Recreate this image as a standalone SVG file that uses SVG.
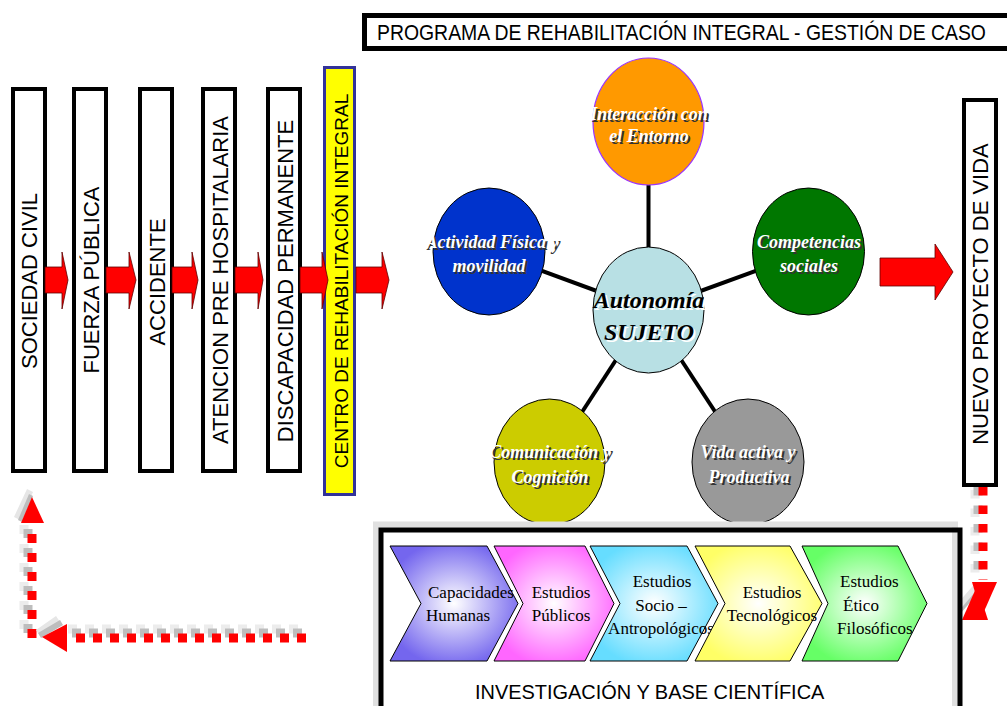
<svg xmlns="http://www.w3.org/2000/svg" width="1007" height="706" viewBox="0 0 1007 706">
<style>
.box{fill:#fff;stroke:#000;stroke-width:4}
.vt{font-family:"Liberation Sans",Arial,sans-serif;font-size:22px;fill:#000;text-anchor:middle}
.ra{fill:#ff0000;stroke:#600000;stroke-width:0.8}
.ct{font-family:"Liberation Serif","Times New Roman",serif;font-weight:bold;font-style:italic;font-size:18px;text-anchor:middle}
.sh{fill:#333}
.wt{fill:#fff}
.ch{stroke:#000;stroke-width:1}
.cht{font-family:"Liberation Serif","Times New Roman",serif;font-size:17px;fill:#000}
.dot{fill:none;stroke:#ff0000;stroke-width:9}
.dsh1{fill:none;stroke:#ececec;stroke-width:9}
.dsh2{fill:none;stroke:#bdbdbd;stroke-width:9}
.link{stroke:#000;stroke-width:4}
</style>
<defs>
<radialGradient id="gP" cx="50%" cy="50%" r="55%"><stop offset="0" stop-color="#fff"/><stop offset="1" stop-color="#7466ee"/></radialGradient>
<radialGradient id="gM" cx="50%" cy="50%" r="55%"><stop offset="0" stop-color="#fff"/><stop offset="1" stop-color="#ff66ff"/></radialGradient>
<radialGradient id="gC" cx="50%" cy="50%" r="55%"><stop offset="0" stop-color="#fff"/><stop offset="1" stop-color="#66ddff"/></radialGradient>
<radialGradient id="gY" cx="50%" cy="50%" r="55%"><stop offset="0" stop-color="#fff"/><stop offset="1" stop-color="#ffff66"/></radialGradient>
<radialGradient id="gG" cx="50%" cy="50%" r="55%"><stop offset="0" stop-color="#fff"/><stop offset="1" stop-color="#66ff66"/></radialGradient>
</defs>
<rect width="1007" height="706" fill="#fff"/>

<g id="title">
<path d="M1007 15.5 H364.5 V48.5 H1007" fill="#fff" stroke="#000" stroke-width="5"/>
<text transform="translate(377,40) scale(0.882,1)" x="0" y="0" font-family="Liberation Sans,Arial,sans-serif" font-size="22">PROGRAMA DE REHABILITACIÓN INTEGRAL - GESTIÓN DE CASO</text>
</g>

<g id="sociedad-civil"><rect class="box" x="13" y="89" width="32" height="382"/><text class="vt" transform="translate(37,281) rotate(-90)">SOCIEDAD CIVIL</text></g>
<g id="fuerza-publica"><rect class="box" x="74" y="89" width="32" height="382"/><text class="vt" transform="translate(98.5,280) rotate(-90)">FUERZA PÚBLICA</text></g>
<g id="accidente"><rect class="box" x="140" y="89" width="32" height="382"/><text class="vt" transform="translate(164.5,282) rotate(-90)">ACCIDENTE</text></g>
<g id="atencion"><rect class="box" x="203" y="89" width="32" height="382"/><text class="vt" transform="translate(227.5,280) rotate(-90)">ATENCION PRE HOSPITALARIA</text></g>
<g id="discapacidad"><rect class="box" x="268" y="89" width="32" height="382"/><text class="vt" transform="translate(292.5,281) rotate(-90)">DISCAPACIDAD PERMANENTE</text></g>
<g id="centro"><rect x="324.5" y="67.5" width="30" height="427" fill="#ffff00" stroke="#333399" stroke-width="3"/><text class="vt" style="font-size:19px" transform="translate(347.5,281) rotate(-90)">CENTRO DE REHABILITACIÓN INTEGRAL</text></g>
<g id="nuevo-proyecto"><rect class="box" x="964" y="100" width="32" height="385"/><text class="vt" transform="translate(987.5,294) rotate(-90)">NUEVO PROYECTO DE VIDA</text></g>

<g id="connectors">
<line class="link" x1="648.5" y1="310" x2="648.5" y2="121.5"/>
<line class="link" x1="648.5" y1="310" x2="489" y2="251.5"/>
<line class="link" x1="648.5" y1="310" x2="808.5" y2="251.5"/>
<line class="link" x1="648.5" y1="310" x2="549.5" y2="462"/>
<line class="link" x1="648.5" y1="310" x2="748" y2="462"/>
<polygon class="ra" points="45,267 62,267 62,252 68,280 62,309 62,293 45,293"/>
<polygon class="ra" points="106,267 129,267 129,252 136,280 129,309 129,293 106,293"/>
<polygon class="ra" points="172,267 192,267 192,252 198,280 192,309 192,293 172,293"/>
<polygon class="ra" points="235,267 258,267 258,252 263,280 258,309 258,293 235,293"/>
<polygon class="ra" points="300,267 322,267 322,252 328,280 322,309 322,293 300,293"/>
<polygon class="ra" points="356,267 382,267 382,252 389,280 382,309 382,293 356,293"/>
<polygon class="ra" points="880,258 935,258 935,244 953,272 935,300 935,286 880,286"/>
<path class="dsh1" d="M298 629 H68" stroke-dasharray="9 8"/>
<path class="dsh2" d="M302 633 H72" stroke-dasharray="9 8"/>
<path class="dsh1" d="M24 629 V515" stroke-dasharray="9 10"/>
<path class="dsh2" d="M28 633 V519" stroke-dasharray="9 10"/>
<path class="dot" d="M306 638 H76" stroke-dasharray="9 8"/>
<path class="dot" d="M32 638 V524" stroke-dasharray="9 10"/>
<polygon points="36,630 56,616 60,622 40,636" fill="#e6e6e6"/>
<polygon points="38,633 60,620 63,625 41,638" fill="#bdbdbd"/>
<polygon points="42,637 67,624 67,652" fill="#ff0000"/>
<polygon points="14,517 27,489 33,492 20,520" fill="#e6e6e6"/>
<polygon points="18,520 29,494 33,496 22,522" fill="#bdbdbd"/>
<polygon points="32,497 21,523 44,523" fill="#ff0000"/>
<path class="dsh1" d="M975 490 V578" stroke-dasharray="8.5 10"/>
<path class="dsh2" d="M978 487 V578" stroke-dasharray="8.5 10"/>
<path class="dot" d="M983 487 V580" stroke-dasharray="8.5 10"/>
<line x1="955" y1="611" x2="975" y2="588" stroke="#e6e6e6" stroke-width="6"/>
<line x1="959" y1="613" x2="977" y2="592" stroke="#bdbdbd" stroke-width="3"/>
<polygon points="972,582 997,582 982,616" fill="#ff0000"/>
<polygon points="962,620 988,620 977,586" fill="#ff0000"/>
</g>

<g id="interaccion"><ellipse cx="648.5" cy="121.5" rx="55.5" ry="63.5" fill="#ff9900" stroke="#9933ff" stroke-width="1.2"/>
<text class="ct sh" x="651" y="122">Interacción con</text><text class="ct wt" x="649" y="120">Interacción con</text>
<text class="ct sh" x="651" y="144">el Entorno</text><text class="ct wt" x="649" y="142">el Entorno</text></g>
<g id="actividad"><ellipse cx="489" cy="251.5" rx="56" ry="63.5" fill="#0033cc" stroke="#000" stroke-width="1"/>
<text class="ct sh" x="494" y="250">Actividad Física y</text><text class="ct wt" x="492" y="248">Actividad Física y</text>
<text class="ct sh" x="491" y="274">movilidad</text><text class="ct wt" x="489" y="272">movilidad</text></g>
<g id="competencias"><ellipse cx="808.5" cy="251.5" rx="56" ry="63.5" fill="#007700" stroke="#000" stroke-width="1"/>
<text class="ct sh" x="811" y="250">Competencias</text><text class="ct wt" x="809" y="248">Competencias</text>
<text class="ct sh" x="811" y="274">sociales</text><text class="ct wt" x="809" y="272">sociales</text></g>
<g id="autonomia"><ellipse cx="648.5" cy="310" rx="55.5" ry="63" fill="#b8e0e4" stroke="#000" stroke-width="1"/>
<text class="ct wt" style="font-size:24px" x="651" y="310">Autonomía</text><text class="ct" style="font-size:24px;fill:#000" x="649" y="308">Autonomía</text>
<text class="ct wt" style="font-size:24px" x="651" y="342">SUJETO</text><text class="ct" style="font-size:24px;fill:#000" x="649" y="340">SUJETO</text></g>
<g id="comunicacion"><ellipse cx="549.5" cy="462" rx="55.5" ry="63" fill="#cccc00" stroke="#000" stroke-width="1"/>
<text class="ct sh" x="552" y="460">Comunicación y</text><text class="ct wt" x="550" y="458">Comunicación y</text>
<text class="ct sh" x="552" y="485">Cognición</text><text class="ct wt" x="550" y="483">Cognición</text></g>
<g id="vida-activa"><ellipse cx="748" cy="462" rx="56" ry="63" fill="#999999" stroke="#000" stroke-width="1"/>
<text class="ct sh" x="750" y="460">Vida activa y</text><text class="ct wt" x="748" y="458">Vida activa y</text>
<text class="ct sh" x="751" y="485">Productiva</text><text class="ct wt" x="749" y="483">Productiva</text></g>

<g id="investigacion">
<rect x="376" y="524.5" width="579" height="200" fill="#fff" stroke="#e0e0e0" stroke-width="6"/>
<rect x="381" y="530" width="579" height="200" fill="none" stroke="#000" stroke-width="5"/>
<g id="capacidades"><polygon class="ch" fill="url(#gP)" points="390,546 487,546 518,603.5 487,661 390,661 421,603.5"/>
<text class="cht" x="428" y="598">Capacidades</text><text class="cht" x="426" y="621">Humanas</text></g>
<g id="estudios-publicos"><polygon class="ch" fill="url(#gM)" points="494,546 585,546 614,603.5 585,661 494,661 523,603.5"/>
<text class="cht" x="561" y="598" text-anchor="middle">Estudios</text><text class="cht" x="561" y="621" text-anchor="middle">Públicos</text></g>
<g id="estudios-socio"><polygon class="ch" fill="url(#gC)" points="590,546 687,546 718,603.5 687,661 590,661 620,603.5"/>
<text class="cht" x="662" y="587" text-anchor="middle">Estudios</text><text class="cht" x="661" y="611" text-anchor="middle">Socio –</text><text class="cht" x="661" y="634" text-anchor="middle">Antropológicos</text></g>
<g id="estudios-tecnologicos"><polygon class="ch" fill="url(#gY)" points="695,546 790,546 822,603.5 790,661 695,661 725,603.5"/>
<text class="cht" x="772" y="598" text-anchor="middle">Estudios</text><text class="cht" x="772" y="621" text-anchor="middle">Tecnológicos</text></g>
<g id="estudios-etico"><polygon class="ch" fill="url(#gG)" points="802,546 898,546 927,603.5 898,661 802,661 828,603.5"/>
<text class="cht" x="840" y="587">Estudios</text><text class="cht" x="843" y="611">Ético</text><text class="cht" x="837" y="634">Filosóficos</text></g>
<text transform="translate(475,699) scale(0.95,1)" x="0" y="0" font-family="Liberation Sans,Arial,sans-serif" font-size="21">INVESTIGACIÓN Y BASE CIENTÍFICA</text>
</g>
</svg>
